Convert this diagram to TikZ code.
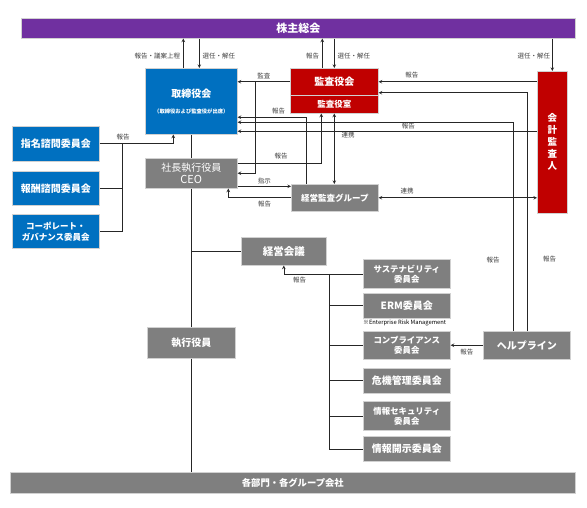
\documentclass[tikz,border=0pt]{standalone}
\usepackage{fontspec}
\setmainfont{Noto Sans CJK JP}
\usepackage{xcolor}
\usetikzlibrary{shapes,arrows,positioning,calc}

\definecolor{kabupurple}{HTML}{7030A0}
\definecolor{boardblue}{HTML}{0070C0}
\definecolor{auditred}{HTML}{C00000}
\definecolor{execgray}{HTML}{7F7F7F}

\begin{document}
\begin{tikzpicture}[
    x=1pt, y=-1pt,
    every node/.style={font=\fontsize{6}{7}\selectfont},
    box/.style={rectangle, draw=black!18, line width=0.6pt, text=white, font=\bfseries\fontsize{10}{12}\selectfont, align=center, inner sep=0pt, anchor=north west},
    meeting/.style={box, fill=kabupurple},
    board/.style={box, fill=boardblue},
    audit/.style={box, fill=auditred},
    exec/.style={box, fill=execgray},
    committee/.style={exec, minimum width=87pt, font=\bfseries\fontsize{8.4}{10}\selectfont},
    label/.style={font=\fontsize{6.5}{7}\selectfont, text=black!75, inner sep=1pt},
    line/.style={draw=black!85, line width=0.6pt},
    arrow/.style={line, ->, >=stealth},
    darrow/.style={line, <->, >=stealth}
]
\useasboundingbox (0,0) rectangle (587,508);

% General meeting of shareholders
\node[meeting, minimum width=554pt, minimum height=20pt, font=\bfseries\fontsize{11}{13}\selectfont] (soukai) at (21,18) {株主総会};

% Board and auditors
\node[board, minimum width=92pt, minimum height=66pt] (torishimari) at (145,68) {取締役会\\[4pt]{\fontsize{5.3}{6}\selectfont（取締役および監査役が出席）}};
\node[audit, minimum width=88pt, minimum height=27pt] (kansakai) at (290,68) {監査役会};
\node[audit, minimum width=88pt, minimum height=18pt, font=\bfseries\fontsize{8.5}{10}\selectfont] (kansashitsu) at (290,95) {監査役室};
\node[audit, minimum width=30pt, minimum height=142pt, font=\bfseries\fontsize{9.5}{12}\selectfont] (kaikei) at (537,71) {会\\計\\監\\査\\人};

% Advisory committees
\node[board, minimum width=87pt, minimum height=35pt] (shimei) at (12,126) {指名諮問委員会};
\node[board, minimum width=87pt, minimum height=34pt] (houshu) at (12,171) {報酬諮問委員会};
\node[board, minimum width=87pt, minimum height=34pt, font=\bfseries\fontsize{8.5}{11}\selectfont] (cg) at (12,214) {コーポレート・\\ガバナンス委員会};

% Executive side
\node[exec, minimum width=92pt, minimum height=30pt, font=\fontsize{10}{12.5}\selectfont] (ceo) at (145,158) {社長執行役員\\{\fontsize{11}{12}\selectfont CEO}};
\node[exec, minimum width=87pt, minimum height=27pt, font=\bfseries\fontsize{8.5}{10}\selectfont] (keieikansa) at (291,184) {経営監査グループ};
\node[exec, minimum width=85pt, minimum height=28pt, font=\bfseries\fontsize{10.5}{12}\selectfont] (keieikaigi) at (241,237) {経営会議};
\node[exec, minimum width=88pt, minimum height=31pt] (shikko) at (147,327) {執行役員};

% Committees under the management meeting
\node[committee, minimum height=29pt] (sustain) at (363,259) {サステナビリティ\\委員会};
\node[committee, minimum height=25pt, below=4pt of sustain, font=\bfseries\fontsize{10}{12}\selectfont] (erm) {ERM委員会};
\node[font=\fontsize{5.8}{6}\selectfont, inner sep=0pt, anchor=north west] (ermnote) at (363,319.5) {※Enterprise Risk Management};
\node[committee, minimum height=28pt, below=13pt of erm] (compliance) {コンプライアンス\\委員会};
\node[committee, minimum height=25pt, below=8pt of compliance, font=\bfseries\fontsize{10}{12}\selectfont] (kiki) {危機管理委員会};
\node[committee, minimum height=29pt, below=8pt of kiki] (security) {情報セキュリティ\\委員会};
\node[committee, minimum height=25pt, below=5pt of security, font=\bfseries\fontsize{10}{12}\selectfont] (disclose) {情報開示委員会};

\node[exec, minimum width=87pt, minimum height=28pt] (helpline) at (483,331) {ヘルプライン};

% Departments and group companies
\node[exec, minimum width=565pt, minimum height=21pt, font=\bfseries\fontsize{9.3}{11}\selectfont] (bumon) at (10,472) {各部門・各グループ会社};

% Arrows - shareholders
\draw[arrow] ([xshift=-8pt]torishimari.north) -- ([xshift=-8pt]torishimari.north |- soukai.south) node[label, pos=0.4, left=2pt] {報告・議案上程};
\draw[arrow] ([xshift=8pt]torishimari.north |- soukai.south) -- ([xshift=8pt]torishimari.north) node[label, pos=0.6, right=2pt] {選任・解任};
\draw[arrow] ([xshift=-12pt]kansakai.north) -- ([xshift=-12pt]kansakai.north |- soukai.south) node[label, pos=0.4, left=2pt] {報告};
\draw[arrow] (kansakai.north |- soukai.south) -- (kansakai.north) node[label, pos=0.6, right=2pt] {選任・解任};
\draw[arrow] (kaikei.north |- soukai.south) -- (kaikei.north) node[label, pos=0.55, left=1pt] {選任・解任};

% Arrows - audit
\draw[arrow] (kansakai.west) -- (kansakai.west -| torishimari.east) node[label, midway, above=2pt] {監査};
\coordinate (kansabr) at ($(kansakai.west -| torishimari.east)+(18,0)$);
\draw[arrow] (kansabr) |- (ceo.east);
\draw[arrow] ([yshift=10pt]ceo.east) -| ([xshift=-13pt]kansashitsu.south) node[label, pos=0.26, above=3pt] {報告};
\draw[arrow] ([xshift=15pt]keieikansa.north west) |- ([yshift=-16pt]torishimari.east) node[label, pos=0.7, above=2pt] {報告};
\draw[darrow] (kansashitsu.south) -- (kansashitsu.south |- keieikansa.north) node[label, pos=0.31, right=6pt] {連携};
\draw[arrow] (kaikei.west |- kansakai.east) -- (kansakai.east) node[label, pos=0.79, above=2pt] {報告};
\draw[arrow] (helpline.north) |- ([yshift=-11pt]kansakai.east) node[label, pos=0.15, right=15pt] {報告};
\draw[arrow] ([xshift=-14pt]helpline.north) |- ([yshift=-21pt]torishimari.east) node[label, pos=0.17, left=12pt] {報告};
\draw[arrow] ([yshift=-30pt]torishimari.east -| kaikei.west) -- ([yshift=-30pt]torishimari.east) node[label, pos=0.43, above=1pt] {報告};

% Arrows - executive
\draw[arrow] ([yshift=-13pt]ceo.east) -- ([yshift=-13pt]ceo.east -| keieikansa.west) node[label, midway, above=1pt] {指示};
\draw[arrow] (keieikansa.west) -| ([xshift=37pt]ceo.south) node[label, pos=0.21, below=2pt] {報告};
\draw[darrow] (keieikansa.east) -- (keieikansa.east -| kaikei.west) node[label, pos=0.18, above=2pt] {連携};

% Advisory committees to board
\draw[arrow] (shimei.east) -| ([xshift=-18pt]torishimari.south) node[label, pos=0.16, above=2pt] {報告};
\coordinate (advbus) at ([xshift=23pt]shimei.east);
\draw[line] (advbus) |- (cg.east);
\draw[line] (advbus |- houshu.east) -- (houshu.east);

% Main chain
\draw[line] (torishimari.south) -- (ceo.north);
\draw[line] (ceo.south) -- (shikko.north);
\draw[line] (shikko.south) -- (shikko.south |- bumon.north);
\draw[line] (ceo.south |- keieikaigi.west) -- (keieikaigi.west);

% Committees to management meeting
\draw[arrow] (sustain.west) -| (keieikaigi.south) node[label, pos=0.4, below=2pt] {報告};
\coordinate (combus) at ([xshift=-34pt]sustain.west);
\draw[line] (combus) |- (disclose.west);
\foreach \c in {erm, compliance, kiki, security}
    \draw[line] (combus |- \c.west) -- (\c.west);
\draw[arrow] (helpline.west) -- (helpline.west -| compliance.east) node[label, midway, below=2pt] {報告};

\end{tikzpicture}
\end{document}
